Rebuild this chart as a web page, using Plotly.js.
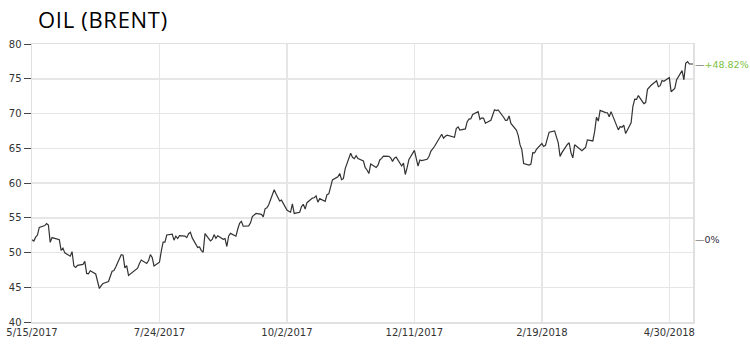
<!DOCTYPE html>
<html>
<head>
<meta charset="utf-8">
<script src="https://cdn.plot.ly/plotly-3.0.1.min.js"></script>
<style>html,body{margin:0;padding:0;background:#fff;}#chart{width:750px;height:345px;}.gtitle{letter-spacing:0.7px;}</style>
</head>
<body>
<div id="chart"></div>
<script>
var dates = [
"2017-05-15","2017-05-16","2017-05-17","2017-05-18","2017-05-19","2017-05-22","2017-05-23","2017-05-24","2017-05-25","2017-05-26",
"2017-05-30","2017-05-31","2017-06-01","2017-06-02","2017-06-05","2017-06-06","2017-06-07","2017-06-08","2017-06-09","2017-06-12",
"2017-06-13","2017-06-14","2017-06-15","2017-06-16","2017-06-19","2017-06-20","2017-06-21","2017-06-22","2017-06-23","2017-06-26",
"2017-06-27","2017-06-28","2017-06-29","2017-06-30","2017-07-03","2017-07-04","2017-07-05","2017-07-06","2017-07-07","2017-07-10",
"2017-07-11","2017-07-12","2017-07-13","2017-07-14","2017-07-17","2017-07-18","2017-07-19","2017-07-20","2017-07-21","2017-07-24",
"2017-07-25","2017-07-26","2017-07-27","2017-07-28","2017-07-31","2017-08-01","2017-08-02","2017-08-03","2017-08-04","2017-08-07",
"2017-08-08","2017-08-09","2017-08-10","2017-08-11","2017-08-14","2017-08-15","2017-08-16","2017-08-17","2017-08-18","2017-08-21",
"2017-08-22","2017-08-23","2017-08-24","2017-08-25","2017-08-28","2017-08-29","2017-08-30","2017-08-31","2017-09-01","2017-09-04",
"2017-09-05","2017-09-06","2017-09-07","2017-09-08","2017-09-11","2017-09-12","2017-09-13","2017-09-14","2017-09-15","2017-09-18",
"2017-09-19","2017-09-20","2017-09-21","2017-09-22","2017-09-25","2017-09-26","2017-09-27","2017-09-28","2017-09-29","2017-10-02",
"2017-10-03","2017-10-04","2017-10-05","2017-10-06","2017-10-09","2017-10-10","2017-10-11","2017-10-12","2017-10-13","2017-10-16",
"2017-10-17","2017-10-18","2017-10-19","2017-10-20","2017-10-23","2017-10-24","2017-10-25","2017-10-26","2017-10-27","2017-10-30",
"2017-10-31","2017-11-01","2017-11-02","2017-11-03","2017-11-06","2017-11-07","2017-11-08","2017-11-09","2017-11-10","2017-11-13",
"2017-11-14","2017-11-15","2017-11-16","2017-11-17","2017-11-20","2017-11-21","2017-11-22","2017-11-23","2017-11-24","2017-11-27",
"2017-11-28","2017-11-29","2017-11-30","2017-12-01","2017-12-04","2017-12-05","2017-12-06","2017-12-07","2017-12-08","2017-12-11",
"2017-12-12","2017-12-13","2017-12-14","2017-12-15","2017-12-18","2017-12-19","2017-12-20","2017-12-21","2017-12-22","2017-12-26",
"2017-12-27","2017-12-28","2017-12-29","2018-01-02","2018-01-03","2018-01-04","2018-01-05","2018-01-08","2018-01-09","2018-01-10",
"2018-01-11","2018-01-12","2018-01-15","2018-01-16","2018-01-17","2018-01-18","2018-01-19","2018-01-22","2018-01-23","2018-01-24",
"2018-01-25","2018-01-26","2018-01-29","2018-01-30","2018-01-31","2018-02-01","2018-02-02","2018-02-05","2018-02-06","2018-02-07",
"2018-02-08","2018-02-09","2018-02-12","2018-02-13","2018-02-14","2018-02-15","2018-02-16","2018-02-19","2018-02-20","2018-02-21",
"2018-02-22","2018-02-23","2018-02-26","2018-02-27","2018-02-28","2018-03-01","2018-03-02","2018-03-05","2018-03-06","2018-03-07",
"2018-03-08","2018-03-09","2018-03-12","2018-03-13","2018-03-14","2018-03-15","2018-03-16","2018-03-19","2018-03-20","2018-03-21",
"2018-03-22","2018-03-23","2018-03-26","2018-03-27","2018-03-28","2018-03-29","2018-04-02","2018-04-03","2018-04-04","2018-04-05",
"2018-04-06","2018-04-09","2018-04-10","2018-04-11","2018-04-12","2018-04-13","2018-04-16","2018-04-17","2018-04-18","2018-04-19",
"2018-04-20","2018-04-23","2018-04-24","2018-04-25","2018-04-26","2018-04-27","2018-04-30","2018-05-01","2018-05-02","2018-05-03",
"2018-05-04","2018-05-07","2018-05-08","2018-05-09","2018-05-10","2018-05-11","2018-05-13"
];
var prices = [
51.82,51.65,52.21,52.51,53.61,53.87,54.15,53.96,51.46,52.15,
51.84,50.31,50.63,49.95,49.47,50.12,48.06,47.86,48.15,48.29,
48.72,46.99,46.92,47.37,46.91,46.02,44.82,45.22,45.54,45.83,
46.65,47.31,47.42,47.92,49.68,49.61,47.79,48.11,46.71,47.29,
47.52,47.74,48.42,48.91,48.42,48.84,49.70,49.30,48.06,48.60,
50.20,51.49,51.49,52.52,52.65,51.78,52.36,52.01,52.42,52.37,
52.14,52.70,52.90,52.10,50.73,50.80,50.27,50.03,52.72,51.66,
51.87,52.57,52.04,52.41,51.89,52.00,50.86,52.38,52.75,52.34,
53.38,54.20,54.49,53.78,53.84,54.27,55.16,55.47,55.62,55.48,
55.14,56.29,56.43,56.86,59.02,58.44,57.90,57.41,57.54,56.12,
55.94,55.80,57.00,55.62,55.79,56.61,56.94,56.25,57.17,57.82,
57.88,58.15,57.24,57.75,57.37,58.33,58.44,59.30,60.44,60.90,
61.37,60.49,60.62,62.07,64.27,63.69,63.49,63.93,63.52,63.16,
62.21,61.87,61.36,62.72,62.22,62.57,63.32,63.55,63.86,63.84,
63.61,63.11,63.57,63.73,62.45,62.86,61.22,62.20,63.40,64.69,
63.34,62.44,63.31,63.23,63.42,63.80,64.56,64.90,65.25,67.02,
66.44,66.72,66.87,66.57,67.84,68.07,67.62,67.78,68.82,69.20,
69.26,69.87,70.26,69.15,69.38,69.31,68.61,69.03,69.96,70.53,
70.42,70.52,69.46,69.02,69.05,69.65,68.58,67.62,66.86,65.51,
64.81,62.79,62.59,62.72,64.36,64.33,64.84,65.67,65.25,65.42,
66.39,67.31,67.50,66.63,65.78,63.83,64.37,65.54,65.79,64.34,
63.61,65.49,64.95,64.64,64.89,65.12,66.21,66.05,67.42,69.47,
68.91,70.45,70.12,70.11,69.53,70.27,67.64,68.12,68.02,68.33,
67.11,68.65,71.04,72.06,72.02,72.58,71.42,71.58,73.48,73.78,
74.06,74.71,73.86,74.00,74.74,74.64,75.17,73.13,73.36,73.62,
74.87,76.17,74.85,77.21,77.47,77.12,77.12
];
var xTickVals = ["2017-05-15","2017-07-24","2017-10-02","2017-12-11","2018-02-19","2018-04-30"];
var xTickText = ["5/15/2017","7/24/2017","10/2/2017","12/11/2017","2/19/2018","4/30/2018"];
var xRange = ["2017-05-15","2018-05-13"];
var yRange = [40, 80];
var chartTitle = "OIL (BRENT)";

var first = prices[0], last = prices[prices.length - 1];
var pct = (last / first - 1) * 100;
var pctText = (pct >= 0 ? "+" : "") + pct.toFixed(2) + "%";

var tickFont = {family: "DejaVu Sans, Verdana, sans-serif", size: 10, color: "#333"};
var sideFont = {family: "DejaVu Sans, Verdana, sans-serif", size: 9.5, color: "#333"};

var trace = {
  x: dates, y: prices, type: "scatter", mode: "lines",
  line: {color: "#333333", width: 1.2},
  hoverinfo: "x+y"
};

var layout = {
  width: 750, height: 345,
  margin: {l: 32, r: 57, t: 44, b: 23},
  paper_bgcolor: "#ffffff", plot_bgcolor: "#ffffff",
  showlegend: false,
  title: {
    text: chartTitle, xref: "container", yref: "container",
    x: 38/750, xanchor: "left", y: 1 - 20/345, yanchor: "middle",
    font: {family: "Open Sans, sans-serif", size: 22, color: "#000"}
  },
  xaxis: {
    type: "date", range: xRange,
    tickvals: xTickVals, ticktext: xTickText,
    ticks: "", showgrid: true, gridcolor: "#e6e6e6", gridwidth: 1.5,
    showline: true, linecolor: "#e0e0e0", linewidth: 1.5, mirror: true,
    zeroline: false, tickfont: tickFont, fixedrange: true
  },
  yaxis: {
    range: yRange, dtick: 5, tick0: 40,
    ticks: "outside", ticklen: 7, tickcolor: "#444", tickwidth: 1,
    showgrid: true, gridcolor: "#e6e6e6", gridwidth: 1.5,
    showline: true, linecolor: "#e0e0e0", linewidth: 1.5, mirror: true,
    zeroline: false, tickfont: tickFont, fixedrange: true
  },
  annotations: [
    {xref: "paper", yref: "y", x: 1, y: last, xanchor: "left", yanchor: "middle",
     showarrow: false, xshift: 0,
     text: "<span style='color:#444'>—</span><span style='color:#7dbf3f'>" + pctText + "</span>",
     font: sideFont},
    {xref: "paper", yref: "y", x: 1, y: first, xanchor: "left", yanchor: "middle",
     showarrow: false, xshift: 0,
     text: "<span style='color:#444'>—</span><span style='color:#2e2e3e'>0%</span>",
     font: sideFont}
  ]
};

Plotly.newPlot("chart", [trace], layout, {displayModeBar: false, staticPlot: true});
</script>
</body>
</html>
